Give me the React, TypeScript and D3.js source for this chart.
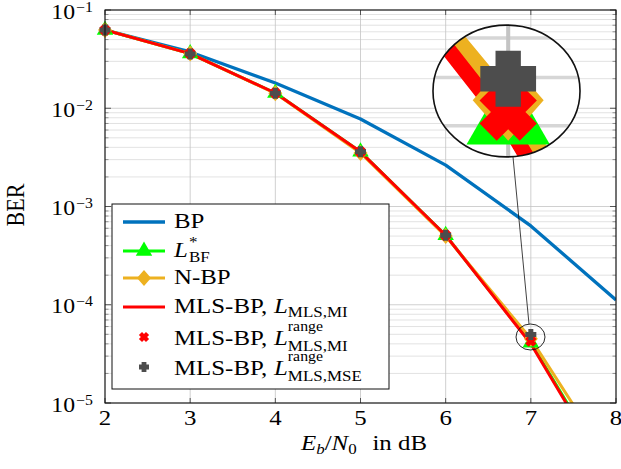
import React from "react";
import * as d3 from "d3";

const snr = [2, 3, 4, 5, 6, 7, 8];
const berBP = [0.0625, 0.0374, 0.0181, 0.00778, 0.00264, 0.000634, 0.000112];
const berBF = [0.0625, 0.036, 0.0143, 0.0036, 0.00051, 0.000041, 0.0000015];
const berNBP = [0.0625, 0.036, 0.0142, 0.0035, 0.0005, 0.000045, 0.00000202];
const berMLS = [0.0625, 0.036, 0.0143, 0.0036, 0.00051, 0.00004, 0.00000141];
const snrRange = [2, 3, 4, 5, 6, 7];
const berRangeMI = [0.0625, 0.036, 0.0143, 0.0036, 0.00051, 0.0000426];
const berRangeMSE = [0.0625, 0.0357, 0.0142, 0.0036, 0.00051, 0.0000497];
const xTicks = [2, 3, 4, 5, 6, 7, 8];
const yDecades = [-1, -2, -3, -4, -5];

const COL_BP = "#0072BD";
const COL_BF = "#00FF00";
const COL_NBP = "#EDB120";
const COL_MLS = "#FF0000";
const COL_MSE = "#4D4D4D";
const FONT = '"Liberation Serif", "Times New Roman", serif';
const SX = 1.13;

const W = 621, H = 469;
const L = 105, R = 616, T = 10, B = 403;

const xs = d3.scaleLinear().domain([2, 8]).range([L, R]);
const ys = d3.scaleLog().domain([1e-5, 1e-1]).range([B, T]);

let ctx: CanvasRenderingContext2D | null = null;
function measure(s: string, size: number, italic = false) {
  if (!ctx) ctx = document.createElement("canvas").getContext("2d");
  if (!ctx) return s.length * size * 0.5;
  ctx.font = `${italic ? "italic " : ""}${size}px "Liberation Serif"`;
  return ctx.measureText(s).width;
}

type Seg = { t: string; size: number; off?: number; it?: boolean; back?: boolean; dx?: number };
function segs(list: Seg[]) {
  let prevOff = 0;
  let prevW = 0;
  return list.map((s, i) => {
    const off = s.off || 0;
    const dy = off - prevOff;
    let dx = s.dx || 0;
    if (s.back) dx -= prevW;
    prevOff = off;
    prevW = measure(s.t, s.size, s.it);
    return (
      <tspan key={i} dy={dy} dx={dx} fontSize={s.size} fontStyle={s.it ? "italic" : "normal"}>
        {s.t}
      </tspan>
    );
  });
}

function triangle(cx: number, cy: number, r = 9.5) {
  return `M${cx},${cy - r}L${cx + 0.866 * r},${cy + 0.5 * r}L${cx - 0.866 * r},${cy + 0.5 * r}Z`;
}
function diamond(cx: number, cy: number) {
  return `M${cx},${cy - 8}L${cx + 7},${cy}L${cx},${cy + 8}L${cx - 7},${cy}Z`;
}
function plusPts(a: number, t: number) {
  return [
    [-t, -a], [t, -a], [t, -t], [a, -t], [a, t], [t, t], [t, a], [-t, a], [-t, t], [-a, t], [-a, -t], [-t, -t],
  ];
}
function plus(cx: number, cy: number, rot = 0, a = 5.5, t = 2.5) {
  const c = Math.cos(rot), s = Math.sin(rot);
  const p = plusPts(a, t).map(([x, y]) => [cx + x * c - y * s, cy + x * s + y * c]);
  return "M" + p.map((q) => q.join(",")).join("L") + "Z";
}

const lineGen = (xv: number[], yv: number[]) =>
  d3.line<number>().x((_, i) => xs(xv[i])).y((d) => ys(d))(yv) || "";

const inRange = (v: number) => v >= 1e-5 && v <= 1e-1;

function PlotContent({ id }: { id: string }) {
  const minor: number[] = [];
  for (let e = -5; e < -1; e++) for (let m = 2; m <= 9; m++) minor.push(m * Math.pow(10, e));
  return (
    <g>
      <defs>
        <clipPath id={id}>
          <rect x={L} y={T} width={R - L} height={B - T} />
        </clipPath>
      </defs>
      {minor.map((v, i) => (
        <line key={"mg" + i} x1={L} x2={R} y1={ys(v)} y2={ys(v)} stroke="#d6d6d6" strokeWidth={0.7} />
      ))}
      {yDecades.map((e) => (
        <line key={"Mg" + e} x1={L} x2={R} y1={ys(Math.pow(10, e))} y2={ys(Math.pow(10, e))} stroke="#c4c4c4" strokeWidth={0.8} />
      ))}
      {xTicks.map((t) => (
        <line key={"xg" + t} x1={xs(t)} x2={xs(t)} y1={T} y2={B} stroke="#c4c4c4" strokeWidth={0.8} />
      ))}
      <g clipPath={`url(#${id})`} fill="none" strokeLinejoin="round">
        <path d={lineGen(snr, berBP)} stroke={COL_BP} strokeWidth={3.3} />
        <path d={lineGen(snr, berBF)} stroke={COL_BF} strokeWidth={3} />
        <path d={lineGen(snr, berNBP)} stroke={COL_NBP} strokeWidth={3} />
        <path d={lineGen(snr, berMLS)} stroke={COL_MLS} strokeWidth={3} />
      </g>
      {snr.map((s, i) =>
        inRange(berBF[i]) ? <path key={"bf" + i} d={triangle(xs(s), ys(berBF[i]))} fill={COL_BF} /> : null
      )}
      {snr.map((s, i) =>
        inRange(berNBP[i]) ? <path key={"nb" + i} d={diamond(xs(s), ys(berNBP[i]))} fill={COL_NBP} /> : null
      )}
      {snrRange.map((s, i) => (
        <path key={"mi" + i} d={plus(xs(s), ys(berRangeMI[i]), Math.PI / 4, 5.6, 2.4)} fill={COL_MLS} />
      ))}
      {snrRange.map((s, i) => (
        <path key={"ms" + i} d={plus(xs(s), ys(berRangeMSE[i]))} fill={COL_MSE} />
      ))}
    </g>
  );
}

export default function App() {
  const minorTicks: number[] = [];
  for (let e = -5; e < -1; e++) for (let m = 2; m <= 9; m++) minorTicks.push(m * Math.pow(10, e));

  // spy
  const sCx = 530.5, sCy = 337, sRx = 14.5, sRy = 13;
  const mag = 5.07;
  const bCx = 506.5, bCy = 91;
  const bRx = sRx * mag, bRy = sRy * mag;

  const legX = 112, legY = 204, legW = 277, legH = 185;
  const lx1 = 123, lx2 = 165, lm = 144, tx = 174;
  const legendRows = [
    { y: 222, base: 228 },
    { y: 251, base: 257 },
    { y: 278, base: 284 },
    { y: 307, base: 313 },
    { y: 337, base: 345 },
    { y: 367, base: 375 },
  ];

  return (
    <svg width={W} height={H} style={{ position: "absolute", left: 0, top: 0, background: "#fff" }} fontFamily={FONT}>
      <rect x={0} y={0} width={W} height={H} fill="#fff" />
      <PlotContent id="clipMain" />

      {/* ticks */}
      {xTicks.map((t) => (
        <g key={"xt" + t} stroke="#333" strokeWidth={0.8}>
          <line x1={xs(t)} x2={xs(t)} y1={B} y2={B - 5} />
          <line x1={xs(t)} x2={xs(t)} y1={T} y2={T + 5} />
        </g>
      ))}
      {yDecades.map((e) => (
        <g key={"yt" + e} stroke="#333" strokeWidth={0.8}>
          <line x1={L} x2={L + 6} y1={ys(Math.pow(10, e))} y2={ys(Math.pow(10, e))} />
          <line x1={R} x2={R - 6} y1={ys(Math.pow(10, e))} y2={ys(Math.pow(10, e))} />
        </g>
      ))}
      {minorTicks.map((v, i) => (
        <g key={"ymt" + i} stroke="#555" strokeWidth={0.6}>
          <line x1={L} x2={L + 3.5} y1={ys(v)} y2={ys(v)} />
          <line x1={R} x2={R - 3.5} y1={ys(v)} y2={ys(v)} />
        </g>
      ))}
      <rect x={L} y={T} width={R - L} height={B - T} fill="none" stroke="#111" strokeWidth={1.1} />

      {/* tick labels */}
      {xTicks.map((t) => (
        <text key={"xl" + t} transform={`translate(${xs(t)},425) scale(${SX},1)`} textAnchor="middle" fontSize={22}>
          {t}
        </text>
      ))}
      {yDecades.map((e) => (
        <text key={"yl" + e} transform={`translate(93,${ys(Math.pow(10, e)) + 8.5}) scale(${SX},1)`} textAnchor="end" fontSize={21}>
          {segs([
            { t: "10", size: 21 },
            { t: `\u2212${-e}`, size: 14, off: -7, dx: 1 },
          ])}
        </text>
      ))}

      {/* axis labels */}
      <text transform={`translate(364,450) scale(${SX},1)`} textAnchor="middle" fontSize={22}>
        {segs([
          { t: "E", size: 22, it: true },
          { t: "b", size: 15, off: 4, it: true },
          { t: "/", size: 22, off: 0 },
          { t: "N", size: 22, it: true },
          { t: "0", size: 15, off: 4 },
          { t: "in dB", size: 22, off: 0, dx: 14 },
        ])}
      </text>
      <text transform={`translate(24,205) scale(${SX},1) rotate(-90)`} textAnchor="middle" fontSize={22}>
        BER
      </text>

      {/* legend */}
      <rect x={legX} y={legY} width={legW} height={legH} fill="#fff" stroke="#111" strokeWidth={1} />
      <line x1={lx1} x2={lx2} y1={legendRows[0].y} y2={legendRows[0].y} stroke={COL_BP} strokeWidth={3.3} />
      <line x1={lx1} x2={lx2} y1={legendRows[1].y} y2={legendRows[1].y} stroke={COL_BF} strokeWidth={3} />
      <path d={triangle(lm, legendRows[1].y)} fill={COL_BF} />
      <line x1={lx1} x2={lx2} y1={legendRows[2].y} y2={legendRows[2].y} stroke={COL_NBP} strokeWidth={3} />
      <path d={diamond(lm, legendRows[2].y)} fill={COL_NBP} />
      <line x1={lx1} x2={lx2} y1={legendRows[3].y} y2={legendRows[3].y} stroke={COL_MLS} strokeWidth={3} />
      <path d={plus(lm, legendRows[4].y, Math.PI / 4, 5, 2.2)} fill={COL_MLS} />
      <path d={plus(lm, legendRows[5].y, 0, 5, 2.4)} fill={COL_MSE} />

      <text transform={`translate(${tx},${legendRows[0].base}) scale(${SX},1)`} fontSize={22}>
        BP
      </text>
      <text transform={`translate(${tx},${legendRows[1].base}) scale(${SX},1)`} fontSize={22}>
        {segs([
          { t: "L", size: 22, it: true },
          { t: "*", size: 15, off: -10, dx: 1 },
          { t: "BF", size: 15, off: 5, back: true },
        ])}
      </text>
      <text transform={`translate(${tx},${legendRows[2].base}) scale(${SX},1)`} fontSize={22}>
        N-BP
      </text>
      <text transform={`translate(${tx},${legendRows[3].base}) scale(${SX},1)`} fontSize={22}>
        {segs([
          { t: "MLS-BP,", size: 22 },
          { t: "L", size: 22, it: true, dx: 6 },
          { t: "MLS,MI", size: 15, off: 4 },
        ])}
      </text>
      <text transform={`translate(${tx},${legendRows[4].base}) scale(${SX},1)`} fontSize={22}>
        {segs([
          { t: "MLS-BP,", size: 22 },
          { t: "L", size: 22, it: true, dx: 6 },
          { t: "range", size: 14, off: -14 },
          { t: "MLS,MI", size: 15, off: 5.5, back: true },
        ])}
      </text>
      <text transform={`translate(${tx},${legendRows[5].base}) scale(${SX},1)`} fontSize={22}>
        {segs([
          { t: "MLS-BP,", size: 22 },
          { t: "L", size: 22, it: true, dx: 6 },
          { t: "range", size: 14, off: -14 },
          { t: "MLS,MSE", size: 15, off: 5.5, back: true },
        ])}
      </text>

      {/* spy */}
      <defs>
        <clipPath id="spyClip">
          <ellipse cx={bCx} cy={bCy} rx={bRx} ry={bRy} />
        </clipPath>
      </defs>
      <line x1={513} y1={157} x2={529} y2={324} stroke="#111" strokeWidth={0.8} />
      <g clipPath="url(#spyClip)">
        <ellipse cx={bCx} cy={bCy} rx={bRx} ry={bRy} fill="#fff" />
        <g transform={`translate(${bCx},${bCy}) scale(${mag}) translate(${-sCx},${-sCy})`}>
          <PlotContent id="clipSpy" />
        </g>
      </g>
      <ellipse cx={bCx} cy={bCy} rx={bRx} ry={bRy} fill="none" stroke="#111" strokeWidth={1.6} />
      <ellipse cx={sCx} cy={sCy} rx={sRx} ry={sRy} fill="none" stroke="#111" strokeWidth={0.9} />
    </svg>
  );
}
